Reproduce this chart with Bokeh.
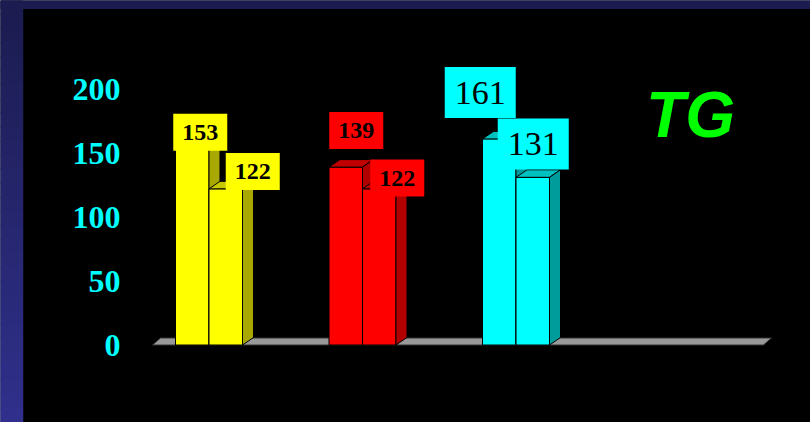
from bokeh.plotting import figure
from bokeh.models import Range1d, LinearAxis, FixedTicker
from bokeh.core.properties import value
from bokeh.embed import file_html
from bokeh.resources import INLINE

# ---------------- data ----------------
groups = [0, 1, 2]
series1 = [153, 139, 161]
series2 = [122, 122, 131]
y_ticks = [0, 50, 100, 150, 200]
chart_title = "TG"

# ---------------- style ----------------
front_colors = ["#ffff00", "#ff0000", "#00ffff"]
top_colors = ["#c8c800", "#c00000", "#00c0c0"]
side_colors = ["#a8a800", "#b00000", "#009c9c"]
label_box_w = [54, 54, 71]
label_box_h = [37, 37, 51]
label_font_size = ["24px", "24px", "34px"]
label_font_style = ["bold", "bold", "normal"]
# label offsets in pixels (dx, dy above bar top)
lab1_dx = [8, 10.5, -19]
lab1_dy = [17, 36.6, 46.4]
lab2_dx = [27, 18, 0.5]
lab2_dy = [17.3, 10.8, 33.3]

W, H = 810, 422
PX = 153.5      # px per group step
PY = 1.28       # px per value unit
X0 = 208.5      # screen x of first group center
Y0 = 344.5      # screen y of value 0

x_start = -X0 / PX
x_end = (W - X0) / PX
y_start = -(H - Y0) / PY
y_end = Y0 / PY

bw = 33.5 / PX
ddx = 11 / PX
ddy = 7.5 / PY

p = figure(width=W, height=H, x_range=Range1d(x_start, x_end), y_range=Range1d(y_start, y_end),
           output_backend="svg", toolbar_location=None, min_border=0,
           x_axis_location=None, y_axis_location=None,
           background_fill_color="black", border_fill_color="black", outline_line_color=None)
p.grid.visible = False

# background strips (left gradient + top strip)
n_bands = 30
lefts_b, rights_b, tops_b, bots_b, cols_b = [], [], [], [], []
for i in range(n_bands):
    t = i / (n_bands - 1)
    r = int(0x1c + t * (0x30 - 0x1c))
    b = int(0x50 + t * (0x8c - 0x50))
    cols_b.append("#%02x%02x%02x" % (r, r, b))
    tops_b.append(y_end - i * (y_end - y_start) / n_bands)
    bots_b.append(y_end - (i + 1) * (y_end - y_start) / n_bands)
    lefts_b.append(x_start)
    rights_b.append(x_start + 22 / PX)
p.quad(left=lefts_b, right=rights_b, top=tops_b, bottom=bots_b, fill_color=cols_b,
       line_color=cols_b, line_width=1.5)
p.quad(left=x_start, right=x_end, top=y_end, bottom=y_end - 8 / PY, fill_color="#1c1c50",
       line_color="#1c1c50", line_width=1)

# floor
fl = groups[0] - 0.368
fr = groups[-1] + 1.612
fdx = 8 / PX
fdy = 7 / PY
p.patch(x=[fl, fr, fr + fdx, fl + fdx], y=[0, 0, fdy, fdy], fill_color="#999999",
        line_color="#333333", line_width=1)


def draw_series(vals, centers):
    lefts = [c - bw / 2 for c in centers]
    rights = [c + bw / 2 for c in centers]
    p.quad(left=lefts, right=rights, bottom=0, top=vals, fill_color=front_colors,
           line_color="black", line_width=1)
    p.patches(xs=[[l, r, r + ddx, l + ddx] for l, r in zip(lefts, rights)],
              ys=[[v, v, v + ddy, v + ddy] for v in vals],
              fill_color=top_colors, line_color="black", line_width=1)
    p.patches(xs=[[r, r + ddx, r + ddx, r] for r in rights],
              ys=[[0, ddy, v + ddy, v] for v in vals],
              fill_color=side_colors, line_color="black", line_width=1)


c1 = [g - bw / 2 for g in groups]
c2 = [g + bw / 2 for g in groups]
draw_series(series1, c1)
draw_series(series2, c2)


def draw_labels(vals, centers, dxs, dys):
    for i, v in enumerate(vals):
        lx = centers[i] + dxs[i] / PX
        ly = v + dys[i] / PY
        p.rect(x=[lx], y=[ly], width=label_box_w[i], height=label_box_h[i],
               width_units="screen", height_units="screen",
               fill_color=front_colors[i], line_color=None)
        p.text(x=[lx], y=[ly], text=[str(v)], text_align="center", text_baseline="middle",
               text_color="black", text_font=value("Liberation Serif"),
               text_font_size=value(label_font_size[i]), text_font_style=label_font_style[i])


draw_labels(series1, c1, lab1_dx, lab1_dy)
draw_labels(series2, c2, lab2_dx, lab2_dy)

# title "TG"
p.text(x=[(690 - X0) / PX], y=[(Y0 - 114) / PY], text=[chart_title], text_align="center",
       text_baseline="middle", text_color="#00ff00", text_font=value("Liberation Sans"),
       text_font_size=value("64px"), text_font_style="bold italic")

# y axis
yaxis = LinearAxis(ticker=FixedTicker(ticks=y_ticks), fixed_location=(120 - X0) / PX,
                   axis_line_color=None, major_tick_line_color=None, minor_tick_line_color=None,
                   major_label_text_color="#00ffff", major_label_text_font="Liberation Serif",
                   major_label_text_font_style="bold", major_label_text_font_size="32px",
                   major_label_standoff=0, major_tick_out=0, major_tick_in=0)
p.add_layout(yaxis, "left")

open("out.html", "w").write(file_html(p, INLINE))
